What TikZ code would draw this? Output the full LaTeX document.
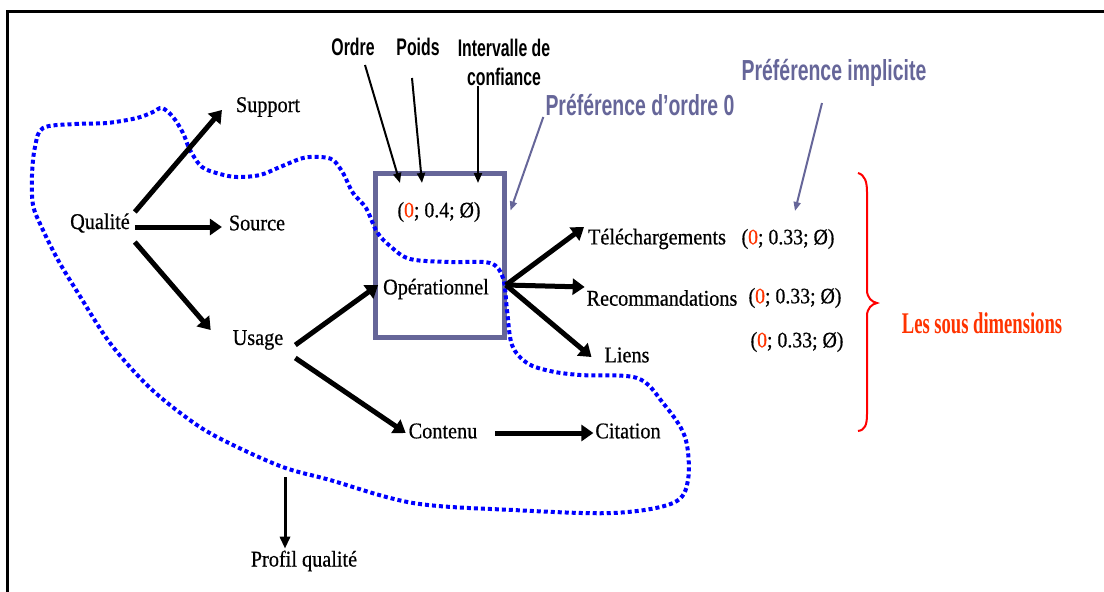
\documentclass[tikz,border=0pt]{standalone}
\usepackage{fontspec}
\setmainfont{Liberation Serif}[FakeStretch=0.9, FakeBold=0.6]
\newfontfamily\narrowsans[FakeStretch=0.66]{Liberation Sans}
\newfontfamily\prefsans[FakeStretch=0.67]{Liberation Sans}
\newfontfamily\narrowserif[FakeStretch=0.62]{Liberation Serif}
\usetikzlibrary{arrows.meta,calc}
\definecolor{prefgray}{RGB}{102,102,153}
\definecolor{zerored}{RGB}{255,51,0}
\definecolor{loopblue}{RGB}{0,0,255}
\definecolor{bracered}{RGB}{255,0,0}

\begin{document}
\begin{tikzpicture}[x=1pt,y=-1pt,
  lbl/.style={font=\fontsize{22.5}{26}\selectfont, inner sep=2pt, outer sep=0pt},
  tuple/.style={font=\fontsize{22}{26}\selectfont, inner sep=2pt, outer sep=0pt},
  toplbl/.style={font={\narrowsans\bfseries\fontsize{24}{29}\selectfont}, align=center, inner sep=2pt},
  preflbl/.style={font={\prefsans\bfseries\fontsize{29}{32}\selectfont}, text=prefgray, inner sep=2pt},
  sublbl/.style={font={\narrowserif\bfseries\fontsize{30}{34}\selectfont}, text=zerored},
  prefbox/.style={draw=prefgray, line width=5.5pt, minimum width=129pt, minimum height=164pt, inner sep=0pt, outer sep=0pt},
  bigarrow/.style={line width=5pt, -{Triangle[length=12pt,width=16pt]}},
  thinarrow/.style={line width=2pt, -{Triangle[length=10pt,width=8pt]}},
  profarrow/.style={line width=3pt, -{Triangle[length=12pt,width=10pt]}},
  grayarrow/.style={line width=2pt, draw=prefgray, -{Triangle[length=9pt,width=7pt]}, color=prefgray},
  dotloop/.style={draw=loopblue, line width=4pt, dash pattern=on 4pt off 3pt},
  bracepath/.style={draw=bracered, line width=2pt}
]
\useasboundingbox (0,0) rectangle (1104,592);

% page frame
\draw[line width=2.5pt] (7.7,592) -- (7.7,11.3) -- (1104,11.3);

% order-0 preference box
\node[prefbox] (box) at (440,255.5) {};

% quality profile boundary
\draw[dotloop] plot[smooth cycle, tension=0.55] coordinates {
  (43,128) (75,124) (107,123) (137,118) (153,112) (162,108) (173,117)
  (183,133) (190,150) (202,167) (220,174) (237,177) (260,175) (280,167)
  (303,158) (320,157) (333,160) (343,173) (353,193) (366,208) (377,232)
  (390,246) (410,259) (450,262) (490,263) (503,278) (507,310) (512,345)
  (527,363) (550,371) (580,375) (637,378) (663,403) (685,437) (688,480)
  (673,503) (613,513) (513,510) (413,503) (330,480) (280,466) (217,437)
  (183,415) (147,385) (110,343) (78,293) (58,260) (42,228) (33,205)
  (32,175) (35,147)};

% nodes
\node[lbl] (qual)   at (100,223) {Qualité};
\node[lbl] (supp)   at (268,107) {Support};
\node[lbl] (src)    at (257,223) {Source};
\node[lbl] (usage)  at (258,340) {Usage};
\node[lbl] (oper)   at (436,289) {Opérationnel};
\node[lbl] (cont)   at (443,431) {Contenu};
\node[lbl] (cit)    at (628,431) {Citation};
\node[lbl] (tele)   at (657,239) {Téléchargements};
\node[lbl] (reco)   at (662,298) {Recommandations};
\node[lbl] (liens)  at (627,355) {Liens};
\node[lbl] (profil) at (304,561) {Profil qualité};

\node[tuple] (tup0) at (439,212) {(\textcolor{zerored}{0}; 0.4; Ø)};
\node[tuple] (t1)   at (788,239) {(\textcolor{zerored}{0}; 0.33; Ø)};
\node[tuple] (t2)   at (795,298) {(\textcolor{zerored}{0}; 0.33; Ø)};
\node[tuple] (t3)   at (797,342) {(\textcolor{zerored}{0}; 0.33; Ø)};

\node[toplbl] (ordre)  at (353,47) {Ordre};
\node[toplbl] (poids)  at (418,47) {Poids};
\node[toplbl] (interv) at (504,62) {Intervalle de\\confiance};

\node[preflbl] (pref0)   at (640,105) {Préférence d’ordre 0};
\node[preflbl] (prefimp) at (834,73)  {Préférence implicite};

\node[sublbl] (sousdim) at (982,323) {Les sous dimensions};

% dimension arrows
\draw[bigarrow] ([shift={(3,-11)}]qual.east) -- ([shift={(-12,3)}]supp.west);
\draw[bigarrow] ([shift={(3,4)}]qual.east) -- ([shift={(-5,4)}]src.west);
\draw[bigarrow] ([shift={(3,19)}]qual.east) -- ([shift={(-20,-10)}]usage.west);
\draw[bigarrow] ([shift={(10,5)}]usage.east) -- ([shift={(-3,-4)}]oper.west);
\draw[bigarrow] ([shift={(10,18)}]usage.east) -- ([shift={(-1,2)}]cont.west);
\draw[bigarrow] ([shift={(16,2)}]cont.east) -- ([shift={(0,2)}]cit.west);

\coordinate (fan) at ([shift={(15,-4)}]oper.east);
\draw[bigarrow] (fan) -- ([shift={(-2,-12)}]tele.west);
\draw[bigarrow] (fan) -- ([shift={(0,-11)}]reco.west);
\draw[bigarrow] (fan) -- ([shift={(-11,2)}]liens.west);

% preference components
\draw[thinarrow] ([shift={(12,18)}]ordre.center) -- ([shift={(-39,-29)}]tup0.center);
\draw[thinarrow] ([shift={(-6,31)}]poids.center) -- ([shift={(-17,-29)}]tup0.center);
\draw[thinarrow] ([shift={(-26,24)}]interv.center) -- ([shift={(39,-29)}]tup0.center);

% preference callouts
\draw[grayarrow] ([shift={(0,12)}]pref0.west) -- ([shift={(6,-45)}]box.east);
\draw[grayarrow] ([shift={(-12,30)}]prefimp.center) -- ([shift={(7,-28)}]t1.center);

% quality profile output
\coordinate (profsrc) at (285,477);
\draw[profarrow] (profsrc) -- (profsrc |- profil.north);

% sub-dimension brace
\draw[bracepath] (858,173) .. controls (865,175) and (867,182) .. (867,192)
  -- (867,290) .. controls (867,298) and (872,302) .. (877,303)
  .. controls (872,304) and (867,308) .. (867,316)
  -- (867,414) .. controls (867,425) and (865,430) .. (858,431);
\end{tikzpicture}
\end{document}
